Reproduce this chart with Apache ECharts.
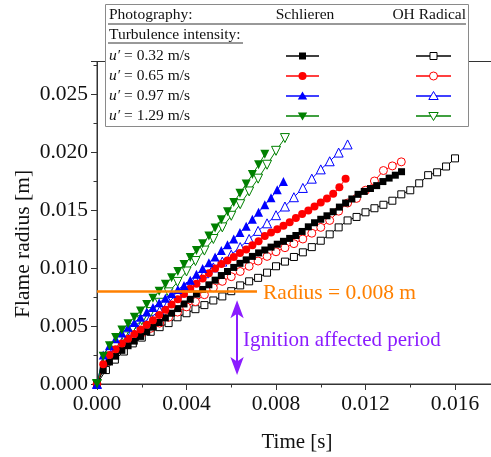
<!DOCTYPE html>
<html><head><meta charset="utf-8">
<script src="https://cdn.jsdelivr.net/npm/echarts@6/dist/echarts.min.js"></script>
<style>html,body{margin:0;padding:0;background:#fff}#c{width:491px;height:457px}</style>
</head><body><div id="c"></div>
<script>
// ---- data (time in ms, radius in mm) ----
const timeSchlierenMs = [0, 0.278, 0.556, 0.833, 1.111, 1.389, 1.667, 1.944, 2.222, 2.5, 2.778, 3.056, 3.333, 3.611, 3.889, 4.167, 4.444, 4.722, 5.0, 5.278, 5.556, 5.833, 6.111, 6.389, 6.667, 6.944, 7.222, 7.5, 7.778, 8.056, 8.333, 8.611, 8.889, 9.167, 9.444, 9.722, 10.0, 10.278, 10.556, 10.833, 11.111, 11.389, 11.667, 11.944, 12.222, 12.5, 12.778, 13.056, 13.333, 13.611];
const timeOHMs = [0, 0.4, 0.8, 1.2, 1.6, 2.0, 2.4, 2.8, 3.2, 3.6, 4.0, 4.4, 4.8, 5.2, 5.6, 6.0, 6.4, 6.8, 7.2, 7.6, 8.0, 8.4, 8.8, 9.2, 9.6, 10.0, 10.4, 10.8, 11.2, 11.6, 12.0, 12.4, 12.8, 13.2, 13.6, 14.0, 14.4, 14.8, 15.2, 15.6, 16.0];

const schlieren032 = [0, 1.2, 1.9, 2.4, 2.9, 3.3, 3.7, 4.1, 4.5, 4.9, 5.3, 5.7, 6.1, 6.5, 6.9, 7.3, 7.75, 8.15, 8.55, 8.95, 9.35, 9.7, 10.05, 10.4, 10.7, 11.0, 11.3, 11.55, 11.8, 12.05, 12.3, 12.55, 12.8, 13.15, 13.55, 13.9, 14.2, 14.5, 14.85, 15.25, 15.6, 15.95, 16.35, 16.6, 16.85, 17.1, 17.45, 17.75, 18.0, 18.3];
const schlieren065 = [0, 1.7, 2.5, 3.0, 3.5, 3.9, 4.3, 4.7, 5.1, 5.5, 5.95, 6.4, 6.85, 7.3, 7.75, 8.2, 8.65, 9.1, 9.55, 9.95, 10.35, 10.65, 10.95, 11.3, 11.6, 11.95, 12.3, 12.75, 13.05, 13.35, 13.65, 13.95, 14.3, 14.65, 14.95, 15.3, 15.65, 16.0, 16.4, 16.95, 17.7];
const schlieren097 = [0, 2.5, 3.3, 3.9, 4.4, 4.9, 5.3, 5.75, 6.2, 6.6, 7.0, 7.4, 7.8, 8.15, 8.5, 8.95, 9.45, 9.95, 10.45, 10.95, 11.5, 12.0, 12.5, 13.05, 13.6, 14.2, 14.8, 15.45, 16.05, 16.75, 17.45];
const schlieren129 = [0, 2.4, 3.3, 4.0, 4.65, 5.2, 5.75, 6.3, 6.85, 7.4, 8.0, 8.6, 9.15, 9.7, 10.3, 10.9, 11.5, 12.1, 12.75, 13.45, 14.15, 14.85, 15.65, 16.45, 17.25, 18.05, 18.9, 19.8];

const oh032 = [0, 1.2, 2.1, 2.8, 3.5, 4.0, 4.5, 4.9, 5.25, 5.75, 6.1, 6.45, 6.8, 7.2, 7.55, 8.0, 8.5, 8.85, 9.15, 9.6, 10.15, 10.55, 10.95, 11.35, 11.8, 12.35, 12.9, 13.5, 14.1, 14.4, 14.8, 15.15, 15.45, 15.8, 16.35, 16.7, 17.3, 18.0, 18.25, 18.75, 19.45];
const oh065 = [0, 1.9, 2.7, 3.4, 3.95, 4.4, 4.8, 5.25, 5.75, 6.2, 6.65, 7.1, 7.7, 8.3, 8.85, 9.25, 9.7, 10.15, 10.6, 11.0, 11.4, 11.75, 12.1, 12.5, 13.0, 13.5, 14.1, 14.9, 15.6, 16.0, 16.7, 17.5, 18.4, 18.8, 19.15];
const oh097 = [0, 2.3, 3.2, 3.9, 4.6, 5.2, 5.75, 6.3, 7.05, 7.8, 8.4, 9.0, 9.55, 10.05, 10.55, 11.15, 11.8, 12.5, 13.2, 13.85, 14.55, 15.3, 16.1, 16.9, 17.7, 18.5, 19.2, 19.95, 20.65];
const oh129 = [0, 2.0, 3.2, 4.1, 4.8, 5.5, 6.2, 7.0, 7.9, 8.8, 9.7, 10.6, 11.5, 12.5, 13.5, 14.5, 15.5, 16.6, 17.7, 18.9, 20.1, 21.2];

const intensityLabels = ['0.32', '0.65', '0.97', '1.29'];
const seriesColors = ['#000000', '#FF0000', '#0000FF', '#008000'];
const seriesSymbols = ['rect', 'circle', 'triangle', 'triangle'];
const symbolRotations = [0, 0, 0, 180];
const symbolSizes = [7, 8, 9, 9];

const radiusThreshold = 8.0;      // mm
const thresholdLineEndMs = 7.15;  // ms
const ignitionArrowMs = 6.26;     // ms

// ---- build ----
const schlierenSets = [schlieren032, schlieren065, schlieren097, schlieren129];
const ohSets = [oh032, oh065, oh097, oh129];
const serif = 'Liberation Serif';

function makeSeries(name, times, vals, i, filled) {
  return {
    type: 'line', name: name,
    data: vals.map((v, k) => [times[k] / 1000, v / 1000]),
    symbol: seriesSymbols[i], symbolRotate: symbolRotations[i], symbolSize: symbolSizes[i],
    showAllSymbol: true,
    lineStyle: { color: seriesColors[i], width: 1 },
    itemStyle: filled ? { color: seriesColors[i], borderColor: seriesColors[i], borderWidth: 0 }
                      : { color: '#ffffff', borderColor: seriesColors[i], borderWidth: 1 },
    emphasis: { disabled: true },
    animation: false, z: filled ? 3 : 2
  };
}
const sNames = intensityLabels.map(l => 'Schlieren ' + l);
const oNames = intensityLabels.map(l => 'OH ' + l);
const series = [];
for (let i = 0; i < 4; i++) {
  series.push(makeSeries(oNames[i], timeOHMs, ohSets[i], i, false));
  series.push(makeSeries(sNames[i], timeSchlierenMs, schlierenSets[i], i, true));
}
series.push({
  type: 'line', name: 'annotations', data: [], silent: true, animation: false, z: 6,
  markLine: {
    silent: true, animation: false, symbol: ['none', 'none'], label: { show: false },
    data: [
      [{ coord: [0, radiusThreshold / 1000], lineStyle: { color: '#FF8000', width: 2.6, type: 'solid' } },
       { coord: [thresholdLineEndMs / 1000, radiusThreshold / 1000] }],
      [{ coord: [ignitionArrowMs / 1000, radiusThreshold / 1000 - 0.0012], lineStyle: { color: '#8B1CFF', width: 2, type: 'solid' } },
       { coord: [ignitionArrowMs / 1000, 0.0012] }]
    ]
  },
  markPoint: {
    silent: true, animation: false, label: { show: false },
    data: [
      { coord: [ignitionArrowMs / 1000, radiusThreshold / 1000], symbol: 'arrow', symbolSize: [10, 18], symbolOffset: [0, '50%'], itemStyle: { color: '#8B1CFF' } },
      { coord: [ignitionArrowMs / 1000, 0], symbol: 'arrow', symbolRotate: 180, symbolSize: [10, 18], symbolOffset: [0, '-50%'], itemStyle: { color: '#8B1CFF' } }
    ]
  }
});

// ---- legend drawn as graphics ----
const rowY = [56, 76, 96, 116];
const legendCols = [{ x1: 286, x2: 319, filled: true }, { x1: 416, x2: 451, filled: false }];
function legendSymbol(i, cx, cy, filled) {
  const col = seriesColors[i];
  const style = filled ? { fill: col, stroke: col, lineWidth: 0 } : { fill: '#fff', stroke: col, lineWidth: 1 };
  if (seriesSymbols[i] === 'rect') return { type: 'rect', shape: { x: cx - 3.5, y: cy - 3.5, width: 7, height: 7 }, style, z: 7 };
  if (seriesSymbols[i] === 'circle') return { type: 'circle', shape: { cx, cy, r: 4 }, style, z: 7 };
  const d = symbolRotations[i] === 180 ? -1 : 1;
  return { type: 'polygon', shape: { points: [[cx, cy - 4.5 * d], [cx + 4.7, cy + 3.5 * d], [cx - 4.7, cy + 3.5 * d]] }, style, z: 7 };
}

const graphics = [
  { type: 'rect', shape: { x: 105.5, y: 4.5, width: 363, height: 122 }, style: { fill: '#fff', stroke: '#8a8a8a', lineWidth: 1 }, z: 5 },
  { type: 'line', shape: { x1: 108, y1: 24, x2: 466, y2: 24 }, style: { stroke: '#333', lineWidth: 1 }, z: 6 },
  { type: 'line', shape: { x1: 108, y1: 43, x2: 243, y2: 43 }, style: { stroke: '#333', lineWidth: 1 }, z: 6 },
  { type: 'text', x: 109, y: 15, style: { text: 'Photography:', font: '15.5px "Liberation Serif"', fill: '#111', textVerticalAlign: 'middle' }, z: 6 },
  { type: 'text', x: 305, y: 15, style: { text: 'Schlieren', font: '15.5px "Liberation Serif"', fill: '#111', textAlign: 'center', textVerticalAlign: 'middle' }, z: 6 },
  { type: 'text', x: 466, y: 15, style: { text: 'OH Radical', font: '15.5px "Liberation Serif"', fill: '#111', textAlign: 'right', textVerticalAlign: 'middle' }, z: 6 },
  { type: 'text', x: 109, y: 35, style: { text: 'Turbulence intensity:', font: '15.5px "Liberation Serif"', fill: '#111', textVerticalAlign: 'middle' }, z: 6 },
  { type: 'text', x: 23, y: 244, rotation: Math.PI / 2, style: { text: 'Flame radius [m]', font: '21.5px "Liberation Serif"', fill: '#111', textAlign: 'center', textVerticalAlign: 'middle' }, z: 6 },
  { type: 'text', x: 297, y: 442, style: { text: 'Time [s]', font: '21px "Liberation Serif"', fill: '#111', textAlign: 'center', textVerticalAlign: 'middle' }, z: 6 },
  { type: 'text', x: 263, y: 293, style: { text: 'Radius = 0.008 m', font: '21.5px "Liberation Serif"', fill: '#FF8000', textVerticalAlign: 'middle' }, z: 6 },
  { type: 'text', x: 243, y: 340, style: { text: 'Ignition affected period', font: '21px "Liberation Serif"', fill: '#8B1CFF', textVerticalAlign: 'middle' }, z: 6 }
];
intensityLabels.forEach((l, i) => {
  graphics.push({ type: 'text', x: 109, y: rowY[i], z: 6,
    style: { text: '{i|u′} = ' + l + ' m/s', font: '15.5px "Liberation Serif"', fill: '#111', textVerticalAlign: 'middle',
      rich: { i: { fontStyle: 'italic', fontFamily: serif, fontSize: 15.5 } } } });
  legendCols.forEach(c => {
    graphics.push({ type: 'line', shape: { x1: c.x1, y1: rowY[i], x2: c.x2, y2: rowY[i] }, style: { stroke: seriesColors[i], lineWidth: 1.4 }, z: 6 });
    graphics.push(legendSymbol(i, (c.x1 + c.x2) / 2, rowY[i], c.filled));
  });
});

const chart = echarts.init(document.getElementById('c'), null, { renderer: 'canvas' });
chart.setOption({
  animation: false,
  backgroundColor: '#fff',
  grid: { left: 97, top: 61.5, right: -8.75, bottom: 73, show: true, borderColor: '#333', borderWidth: 1, backgroundColor: 'transparent', containLabel: false, outerBoundsMode: 'none' },
  xAxis: {
    type: 'value', min: 0, max: 0.018, interval: 0.004,
    axisLine: { show: true, lineStyle: { color: '#333', width: 1 } },
    axisTick: { show: true, inside: false, length: 6, lineStyle: { color: '#333' } },
    minorTick: { show: true, splitNumber: 2, length: 3.5, lineStyle: { color: '#333' } },
    splitLine: { show: false },
    axisLabel: { showMaxLabel: false, margin: 9, fontFamily: serif, fontSize: 21.5, color: '#111', formatter: v => v.toFixed(3) }
  },
  yAxis: {
    type: 'value', min: 0, max: 0.0278, interval: 0.005,
    axisLine: { show: true, onZero: false, lineStyle: { color: '#333', width: 1 } },
    axisTick: { show: true, inside: false, length: 6, lineStyle: { color: '#333' } },
    minorTick: { show: true, splitNumber: 2, length: 3.5, lineStyle: { color: '#333' } },
    splitLine: { show: false },
    axisLabel: { showMaxLabel: false, margin: 9, fontFamily: serif, fontSize: 21.5, color: '#111', formatter: v => v.toFixed(3) }
  },
  graphic: graphics,
  series: series
});
</script>
</body></html>
